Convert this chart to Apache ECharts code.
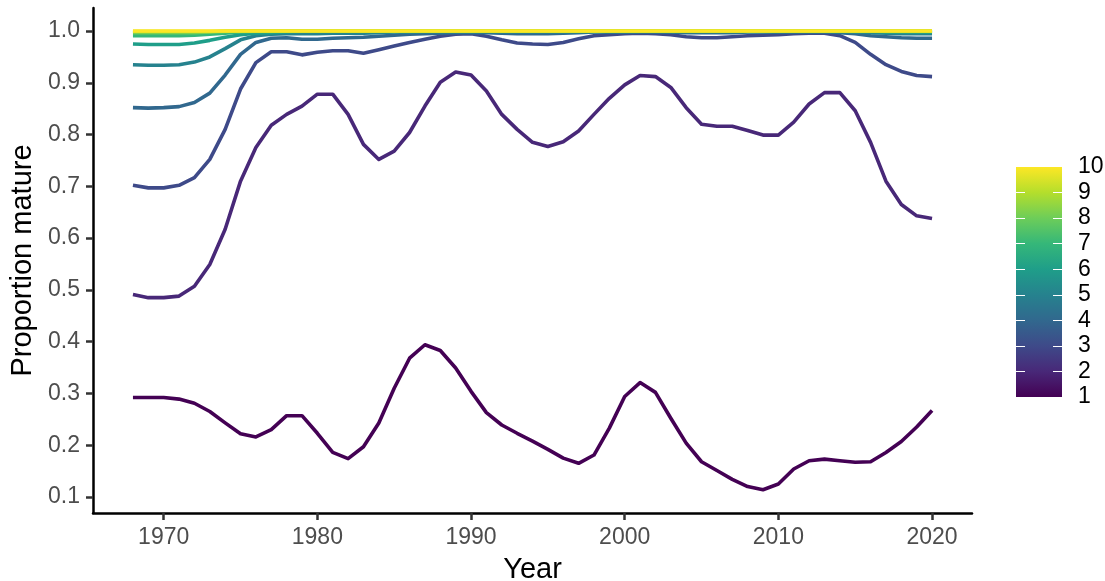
<!DOCTYPE html>
<html>
<head>
<meta charset="utf-8">
<script src="https://cdn.jsdelivr.net/npm/echarts@6/dist/echarts.min.js"></script>
<style>
  html, body { margin: 0; padding: 0; background: #ffffff; }
  #chart { width: 1105px; height: 581px; }
</style>
</head>
<body>
<div id="chart"></div>
<script>
// Years of the maturity series
const years = [
  1968, 1969, 1970, 1971, 1972, 1973, 1974, 1975, 1976, 1977, 1978, 1979,
  1980, 1981, 1982, 1983, 1984, 1985, 1986, 1987, 1988, 1989,
  1990, 1991, 1992, 1993, 1994, 1995, 1996, 1997, 1998, 1999,
  2000, 2001, 2002, 2003, 2004, 2005, 2006, 2007, 2008, 2009,
  2010, 2011, 2012, 2013, 2014, 2015, 2016, 2017, 2018, 2019, 2020
];

// Proportion mature by age class (one array per age)
const age1 = [
  0.292, 0.292, 0.292, 0.289, 0.281, 0.265, 0.243, 0.222, 0.216, 0.230, 0.257, 0.257,
  0.223, 0.186, 0.174, 0.197, 0.243, 0.310, 0.368, 0.394, 0.383, 0.349,
  0.304, 0.263, 0.239, 0.223, 0.208, 0.192, 0.175, 0.165, 0.181, 0.233,
  0.294, 0.321, 0.302, 0.252, 0.204, 0.168, 0.151, 0.134, 0.120, 0.114,
  0.125, 0.154, 0.170, 0.173, 0.170, 0.167, 0.168, 0.186, 0.207, 0.235, 0.267
];
const age2 = [
  0.491, 0.485, 0.485, 0.488, 0.507, 0.549, 0.617, 0.710, 0.775, 0.818, 0.839, 0.855,
  0.878, 0.878, 0.839, 0.781, 0.752, 0.768, 0.804, 0.855, 0.901, 0.921,
  0.915, 0.884, 0.839, 0.810, 0.785, 0.777, 0.786, 0.807, 0.839, 0.870,
  0.896, 0.914, 0.912, 0.891, 0.852, 0.820, 0.816, 0.816, 0.808, 0.799,
  0.799, 0.824, 0.859, 0.881, 0.881, 0.846, 0.785, 0.710, 0.665, 0.643, 0.638
];
const age3 = [
  0.702, 0.697, 0.697, 0.702, 0.717, 0.752, 0.810, 0.888, 0.939, 0.960, 0.960, 0.954,
  0.959, 0.962, 0.962, 0.957, 0.964, 0.971, 0.978, 0.984, 0.990, 0.994,
  0.995, 0.990, 0.983, 0.977, 0.975, 0.974, 0.978, 0.985, 0.991, 0.993,
  0.995, 0.996, 0.995, 0.993, 0.989, 0.987, 0.987, 0.989, 0.991, 0.992,
  0.993, 0.995, 0.996, 0.996, 0.991, 0.978, 0.955, 0.935, 0.922, 0.914, 0.912
];
const age4 = [
  0.852, 0.851, 0.852, 0.854, 0.862, 0.880, 0.915, 0.955, 0.978, 0.986, 0.987, 0.984,
  0.984, 0.986, 0.987, 0.988, 0.990, 0.992, 0.994, 0.995, 0.996, 0.997,
  0.997, 0.997, 0.996, 0.995, 0.995, 0.995, 0.996, 0.997, 0.998, 0.998,
  0.998, 0.999, 0.999, 0.998, 0.997, 0.997, 0.997, 0.997, 0.998, 0.998,
  0.998, 0.999, 0.999, 0.999, 0.997, 0.995, 0.991, 0.989, 0.987, 0.986, 0.986
];
const age5 = [
  0.935, 0.934, 0.934, 0.935, 0.940, 0.950, 0.966, 0.983, 0.991, 0.994, 0.995, 0.995,
  0.995, 0.996, 0.996, 0.996, 0.997, 0.998, 0.998, 0.999, 0.999, 0.999,
  0.999, 0.999, 0.999, 0.999, 0.999, 0.999, 0.999, 0.999, 0.999, 0.999,
  0.999, 0.999, 0.999, 0.999, 0.999, 0.999, 0.999, 0.999, 0.999, 0.999,
  0.999, 0.999, 0.999, 0.999, 0.999, 0.998, 0.997, 0.996, 0.995, 0.995, 0.995
];
const age6 = [
  0.975, 0.974, 0.974, 0.974, 0.977, 0.982, 0.988, 0.993, 0.996, 0.997, 0.998, 0.999,
  0.999, 0.999, 0.999, 0.999, 0.999, 0.999, 0.999, 0.999, 0.999, 0.999,
  0.999, 0.999, 0.999, 0.999, 0.999, 0.999, 0.999, 0.999, 0.999, 0.999,
  0.999, 0.999, 0.999, 0.999, 0.999, 0.999, 0.999, 0.999, 0.999, 0.999,
  0.999, 0.999, 0.999, 0.999, 0.999, 0.999, 0.999, 0.998, 0.998, 0.998, 0.998
];
const age7 = [
  0.991, 0.991, 0.991, 0.991, 0.992, 0.994, 0.996, 0.998, 0.999, 0.999, 1.000, 1.000,
  1.000, 1.000, 1.000, 1.000, 1.000, 1.000, 1.000, 1.000, 1.000, 1.000,
  1.000, 1.000, 1.000, 1.000, 1.000, 1.000, 1.000, 1.000, 1.000, 1.000,
  1.000, 1.000, 1.000, 1.000, 1.000, 1.000, 1.000, 1.000, 1.000, 1.000,
  1.000, 1.000, 1.000, 1.000, 1.000, 1.000, 1.000, 0.999, 0.999, 0.999, 0.999
];
const age8 = [
  0.997, 0.997, 0.997, 0.997, 0.997, 0.998, 0.999, 1.000, 1.000, 1.000, 1.000, 1.000,
  1.000, 1.000, 1.000, 1.000, 1.000, 1.000, 1.000, 1.000, 1.000, 1.000,
  1.000, 1.000, 1.000, 1.000, 1.000, 1.000, 1.000, 1.000, 1.000, 1.000,
  1.000, 1.000, 1.000, 1.000, 1.000, 1.000, 1.000, 1.000, 1.000, 1.000,
  1.000, 1.000, 1.000, 1.000, 1.000, 1.000, 1.000, 1.000, 1.000, 1.000, 1.000
];
const age9 = [
  0.999, 0.999, 0.999, 0.999, 0.999, 0.999, 1.000, 1.000, 1.000, 1.000, 1.000, 1.000,
  1.000, 1.000, 1.000, 1.000, 1.000, 1.000, 1.000, 1.000, 1.000, 1.000,
  1.000, 1.000, 1.000, 1.000, 1.000, 1.000, 1.000, 1.000, 1.000, 1.000,
  1.000, 1.000, 1.000, 1.000, 1.000, 1.000, 1.000, 1.000, 1.000, 1.000,
  1.000, 1.000, 1.000, 1.000, 1.000, 1.000, 1.000, 1.000, 1.000, 1.000, 1.000
];
const age10 = [
  1.000, 1.000, 1.000, 1.000, 1.000, 1.000, 1.000, 1.000, 1.000, 1.000, 1.000, 1.000,
  1.000, 1.000, 1.000, 1.000, 1.000, 1.000, 1.000, 1.000, 1.000, 1.000,
  1.000, 1.000, 1.000, 1.000, 1.000, 1.000, 1.000, 1.000, 1.000, 1.000,
  1.000, 1.000, 1.000, 1.000, 1.000, 1.000, 1.000, 1.000, 1.000, 1.000,
  1.000, 1.000, 1.000, 1.000, 1.000, 1.000, 1.000, 1.000, 1.000, 1.000, 1.000
];

const ages = [1, 2, 3, 4, 5, 6, 7, 8, 9, 10];
const ageSeries = [age1, age2, age3, age4, age5, age6, age7, age8, age9, age10];

// Tick labels
const xTicks = [1970, 1980, 1990, 2000, 2010, 2020];
const yTicks = [0.1, 0.2, 0.3, 0.4, 0.5, 0.6, 0.7, 0.8, 0.9, 1.0];
const legendTicks = [1, 2, 3, 4, 5, 6, 7, 8, 9, 10];

// Viridis palette, one colour per age
const viridis = ['#440154', '#482878', '#3E4A89', '#31688E', '#26828E',
                 '#1F9E89', '#35B779', '#6DCD59', '#B4DE2C', '#FDE725'];

const FONT = "'Liberation Sans', Arial, sans-serif";
const TICK_FONT = 23;
const TITLE_FONT = 29;

const lineSeries = ageSeries.map((vals, i) => ({
  name: String(ages[i]),
  type: 'line',
  xAxisIndex: 0,
  yAxisIndex: 0,
  data: years.map((y, j) => [y, vals[j]]),
  showSymbol: false,
  symbol: 'none',
  lineStyle: { width: 3.6, color: viridis[i], cap: 'butt', join: 'round' },
  itemStyle: { color: viridis[i] },
  z: 2 + i
}));

// Colour bar: a stacked bar spanning the age range, filled with the palette
const barStops = viridis.map((c, i) => ({ offset: 1 - i / (viridis.length - 1), color: c }))
  .sort((a, b) => a.offset - b.offset);

const colourBar = [
  {
    type: 'bar', xAxisIndex: 1, yAxisIndex: 1, stack: 'cb', barWidth: '100%',
    data: [legendTicks[0]],
    itemStyle: { color: 'rgba(0,0,0,0)' }, silent: true
  },
  {
    type: 'bar', xAxisIndex: 1, yAxisIndex: 1, stack: 'cb', barWidth: '100%',
    data: [legendTicks[legendTicks.length - 1] - legendTicks[0]],
    itemStyle: {
      color: { type: 'linear', x: 0, y: 0, x2: 0, y2: 1, colorStops: barStops }
    },
    silent: true
  }
];

const chart = echarts.init(document.getElementById('chart'), null, { renderer: 'canvas' });
chart.setOption({
  animation: false,
  backgroundColor: '#ffffff',
  textStyle: { fontFamily: FONT },
  grid: [
    { left: 93, right: 133, top: 8, bottom: 68, containLabel: false, outerBoundsMode: 'none' },
    { left: 1016, top: 167, width: 46, height: 230, containLabel: false, outerBoundsMode: 'none' }
  ],
  xAxis: [
    {
      type: 'value', gridIndex: 0,
      min: 1965.4, max: 2022.6,
      name: 'Year', nameLocation: 'middle', nameGap: 42,
      nameTextStyle: { fontSize: TITLE_FONT, color: '#000000', fontFamily: FONT },
      axisLine: { show: true, onZero: false, lineStyle: { color: '#000000', width: 2.5 } },
      axisTick: { show: true, length: 7, customValues: xTicks, lineStyle: { color: '#333333', width: 2.5 } },
      axisLabel: { customValues: xTicks, margin: 13, fontSize: TICK_FONT, color: '#4D4D4D', fontFamily: FONT,
                   formatter: v => String(v) },
      splitLine: { show: false }
    },
    {
      type: 'category', gridIndex: 1, data: ['c'], show: false
    }
  ],
  yAxis: [
    {
      type: 'value', gridIndex: 0,
      min: 0.069, max: 1.0445,
      name: 'Proportion mature', nameLocation: 'middle', nameGap: 51, nameRotate: 90,
      nameTextStyle: { fontSize: TITLE_FONT, color: '#000000', fontFamily: FONT },
      axisLine: { show: true, onZero: false, lineStyle: { color: '#000000', width: 2.5 } },
      axisTick: { show: true, length: 7, customValues: yTicks, lineStyle: { color: '#333333', width: 2.5 } },
      axisLabel: { customValues: yTicks, margin: 13, fontSize: TICK_FONT, color: '#4D4D4D', fontFamily: FONT,
                   formatter: v => v.toFixed(1) },
      splitLine: { show: false }
    },
    {
      type: 'value', gridIndex: 1, position: 'right',
      min: legendTicks[0], max: legendTicks[legendTicks.length - 1],
      axisLine: { show: false },
      axisTick: { show: true, inside: true, length: 9, customValues: legendTicks.slice(1, -1),
                  lineStyle: { color: '#ffffff', width: 1 } },
      axisLabel: { customValues: legendTicks, margin: 16, fontSize: TICK_FONT, color: '#000000', fontFamily: FONT },
      splitLine: { show: false },
      z: 10
    },
    {
      type: 'value', gridIndex: 1, position: 'left',
      min: legendTicks[0], max: legendTicks[legendTicks.length - 1],
      axisLine: { show: false },
      axisTick: { show: true, inside: true, length: 9, customValues: legendTicks.slice(1, -1),
                  lineStyle: { color: '#ffffff', width: 1 } },
      axisLabel: { show: false },
      splitLine: { show: false },
      z: 10
    }
  ],
  series: lineSeries.concat(colourBar)
});
</script>
</body>
</html>
